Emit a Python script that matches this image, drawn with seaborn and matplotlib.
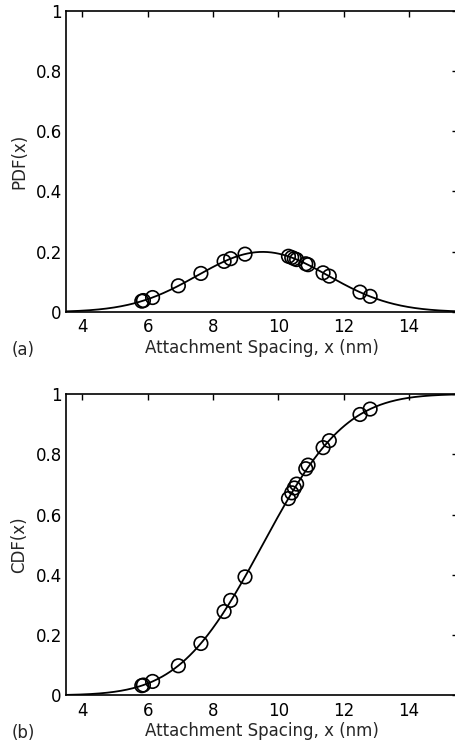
import math
import numpy as np
import pandas as pd
import matplotlib
matplotlib.use("Agg")
import matplotlib.pyplot as plt
import seaborn as sns

# Measured attachment spacings (nm) and their PDF / CDF values
spacing = [5.82, 5.87, 6.15, 6.94, 7.63, 8.34, 8.54, 8.98, 10.31, 10.41,
           10.49, 10.56, 10.84, 10.91, 11.37, 11.56, 12.50, 12.81]
pdf_vals = [0.036, 0.038, 0.048, 0.087, 0.128, 0.168, 0.177, 0.192, 0.185, 0.181,
            0.177, 0.174, 0.160, 0.157, 0.130, 0.119, 0.066, 0.052]
cdf_vals = [0.032, 0.034, 0.046, 0.098, 0.172, 0.278, 0.315, 0.393, 0.653, 0.672,
            0.688, 0.701, 0.752, 0.764, 0.822, 0.845, 0.932, 0.950]

# Fitted normal distribution parameters (nm)
mu = 9.52
sigma = 2.0

x_ticks = [4, 6, 8, 10, 12, 14]
y_ticks = [0, 0.2, 0.4, 0.6, 0.8, 1]
y_tick_labels = ["0", "0.2", "0.4", "0.6", "0.8", "1"]
x_label = "Attachment Spacing, x (nm)"

xs = np.linspace(3.5, 15.5, 400)
fit_pdf = np.exp(-0.5 * ((xs - mu) / sigma) ** 2) / (sigma * math.sqrt(2 * math.pi))
fit_cdf = np.array([0.5 * (1 + math.erf((v - mu) / (sigma * math.sqrt(2)))) for v in xs])

curves = pd.DataFrame({"x": xs, "pdf": fit_pdf, "cdf": fit_cdf})
points = pd.DataFrame({"x": spacing, "pdf": pdf_vals, "cdf": cdf_vals})

sns.set_theme(style="white")
plt.rcParams["font.family"] = ["DejaVu Sans"]

fig = plt.figure(figsize=(4.55, 7.45), dpi=100)
W, H = 455.0, 745.0
left_px, right_px = 66.0, 458.0
panels = [
    (10.7, 312.0, "pdf", "PDF(x)", "(a)"),
    (394.0, 695.3, "cdf", "CDF(x)", "(b)"),
]

for top_px, bot_px, col, ylab, tag in panels:
    ax = fig.add_axes([left_px / W, 1 - bot_px / H,
                       (right_px - left_px) / W, (bot_px - top_px) / H])
    sns.lineplot(data=curves, x="x", y=col, ax=ax, color="black", linewidth=1.3)
    sns.scatterplot(data=points, x="x", y=col, ax=ax, marker="o", s=95,
                    facecolors="none", edgecolor="black", linewidth=1.2, zorder=3)
    ax.set_xlim(3.5, 15.5)
    ax.set_ylim(0, 1)
    ax.set_xticks(x_ticks)
    ax.set_xticklabels([str(t) for t in x_ticks])
    ax.set_yticks(y_ticks)
    ax.set_yticklabels(y_tick_labels)
    ax.tick_params(direction="in", length=4, width=1, colors="black",
                   labelsize=12, top=True, right=True)
    ax.tick_params(axis="x", pad=4.6)
    ax.tick_params(axis="y", pad=3)
    for s in ax.spines.values():
        s.set_color("black")
        s.set_linewidth(1.2)
    ax.set_xlabel(x_label, fontsize=12, labelpad=1.6)
    ax.set_ylabel(ylab, fontsize=12, labelpad=5)
    ax.grid(False)
    ax.text(-0.1385, -0.1427, tag, transform=ax.transAxes, fontsize=12,
            ha="left", va="baseline")

fig.savefig("out.png", dpi=100)
